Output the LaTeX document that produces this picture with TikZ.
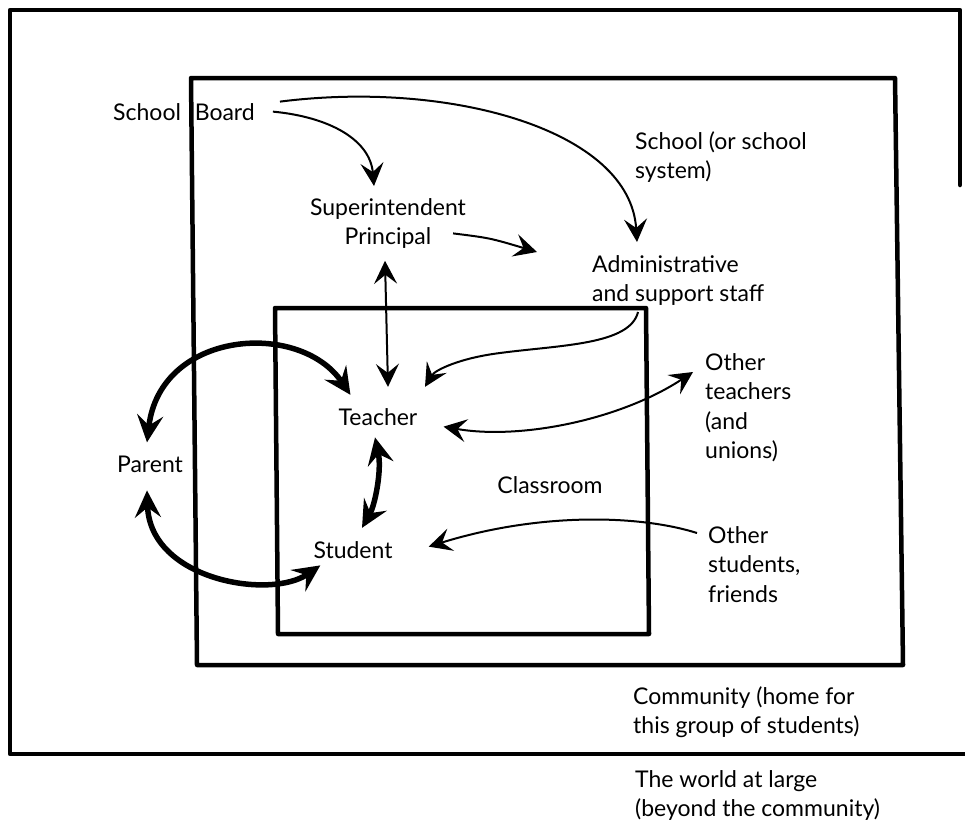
\documentclass[tikz,border=0pt]{standalone}
\usepackage{fontspec}
\setmainfont{Lato}
\usetikzlibrary{arrows.meta}

\begin{document}
\begin{tikzpicture}[x=1pt,y=-1pt,
		wall/.style={line width=4.5pt,line join=round,line cap=round},
		link/.style={line width=2pt},
		bond/.style={line width=5.5pt},
		barb/.tip={Stealth[length=23pt,width=23pt,inset=9pt]},
		bigbarb/.tip={Stealth[length=27pt,width=26pt,inset=10pt]},
		lbl/.style={inner sep=0pt,font=\fontsize{23}{29.5}\selectfont}]
	\useasboundingbox (0,0) rectangle (965,828);
	% die drei Kaesten
	\draw[wall] (960,185) to (960,10) to (10,10) to (10,754) to (975,754);
	\draw[wall] (191,78) to (895,78) to (903,665) to (197,665) to cycle;
	\draw[wall] (275,308) to (646,308) to (649,634) to (278,634) to cycle;
	% Beschriftungen
	\node[lbl,anchor=base] (board) at (184,120) {School\hspace{0.6em}Board};
	\node[lbl,anchor=north west,align=left] (school) at (635,131) {School (or school\\system)};
	\node[lbl,anchor=north,align=center] (superint) at (388,198) {Superintendent\\Principal};
	\node[lbl,anchor=north west,align=left] (admin) at (592,255) {Administrative\\and support staff};
	\node[lbl,anchor=base] (teacher) at (378,425) {Teacher};
	\node[lbl,anchor=north west,align=left] (othert) at (705,353) {Other\\teachers\\(and\\unions)};
	\node[lbl,anchor=base] (parent) at (150,472) {Parent};
	\node[lbl,anchor=base] (classroom) at (550,493) {Classroom};
	\node[lbl,anchor=base] (student) at (353,558) {Student};
	\node[lbl,anchor=north west,align=left] (others) at (708,526) {Other\\students,\\friends};
	\node[lbl,anchor=north west,align=left] (community) at (633,686) {Community (home for\\this group of students)};
	\node[lbl,anchor=north west,align=left] (world) at (635,770) {The world at large\\(beyond the community)};
	\coordinate (mid) at (537,252);
	% Pfeile
	\draw[link,-barb] ([shift={(18,0)}]board.east) .. controls (330,117) and (370,140) .. ([shift={(-14,-12)}]superint.north);
	\draw[link,-barb] ([shift={(25,-10)}]board.east) .. controls (450,80) and (630,130) .. ([shift={(45,-13)}]admin.north west);
	\draw[link,-barb] ([shift={(-13,10)}]superint.east) .. controls (490,238) .. (mid);
	\draw[link,barb-barb] ([shift={(-3,12)}]superint.south) to ([shift={(10,-21)}]teacher.north);
	\draw[link,-barb] ([shift={(46,57)}]admin.north west) .. controls (630,345) and (560,345) .. (500,353) .. controls (460,358) and (435,370) .. ([shift={(47,-21)}]teacher.north);
	\draw[link,barb-barb] ([shift={(26,10)}]teacher.east) .. controls (520,440) and (620,420) .. ([shift={(-12,19)}]othert.north west);
	\draw[link,-barb] ([shift={(-11,7)}]others.north west) .. controls (640,515) and (540,512) .. ([shift={(36,-3)}]student.east);
	\draw[bond,bigbarb-bigbarb] ([shift={(-3,12)}]teacher.south) .. controls (382,470) and (375,505) .. ([shift={(9,-13)}]student.north);
	\draw[bond,bigbarb-bigbarb] ([shift={(-3,-13)}]parent.north) .. controls (160,330) and (300,320) .. ([shift={(12,-13)}]teacher.north west);
	\draw[bond,bigbarb-bigbarb] ([shift={(-3,18)}]parent.south) .. controls (150,580) and (270,600) .. ([shift={(7,7)}]student.south west);
\end{tikzpicture}
\end{document}
